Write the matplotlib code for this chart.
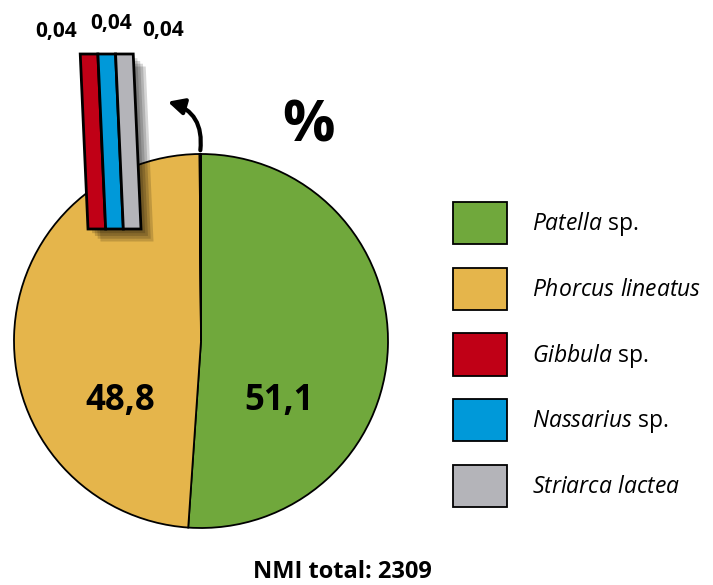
import numpy as np
import matplotlib
matplotlib.use("Agg")
import matplotlib.pyplot as plt
import matplotlib.patheffects as pe
from matplotlib.patches import FancyArrowPatch
from matplotlib.transforms import Affine2D

plt.rcParams['font.family'] = ['Open Sans', 'DejaVu Sans']
plt.rcParams['mathtext.fontset'] = 'custom'
plt.rcParams['mathtext.rm'] = 'Open Sans'
plt.rcParams['mathtext.it'] = 'Open Sans:italic'
plt.rcParams['mathtext.bf'] = 'Open Sans:bold'

# data (percent)
species = ['Patella sp.', 'Phorcus lineatus', 'Gibbula sp.', 'Nassarius sp.', 'Striarca lactea']
legend_labels = [r'$\it{Patella}$ sp.', r'$\it{Phorcus\ lineatus}$', r'$\it{Gibbula}$ sp.',
                 r'$\it{Nassarius}$ sp.', r'$\it{Striarca\ lactea}$']
percent = [51.1, 48.8, 0.04, 0.04, 0.04]
colors = ['#70A83C', '#E5B54B', '#C00016', '#0099D9', '#B4B4B9']
nmi_total = 2309

W, H = 713, 585
fig = plt.figure(figsize=(W / 100, H / 100), dpi=100)

def px_box(x0, y0, x1, y1):
    # pixel box (top-left origin) -> figure fraction rect
    return [x0 / W, 1 - y1 / H, (x1 - x0) / W, (y1 - y0) / H]

# ---- pie ----
cx, cy, r = 201, 341, 187
ax = fig.add_axes(px_box(cx - r, cy - r, cx + r, cy + r))
wedges, _ = ax.pie(percent, colors=colors, startangle=90, counterclock=False,
                   wedgeprops=dict(edgecolor='black', linewidth=1.3, clip_on=False))
ax.set_xlim(-1, 1)
ax.set_ylim(-1, 1)
ax.set_aspect('equal')
ax.axis('off')

def fmt(v):
    return f'{v:.1f}'.replace('.', ',') if v >= 1 else f'{v:.2f}'.replace('.', ',')

ax.text(-0.43, -0.32, fmt(percent[1]), ha='center', va='center',
        fontsize=25, fontweight='bold')
ax.text(0.42, -0.32, fmt(percent[0]), ha='center', va='center',
        fontsize=25, fontweight='bold')

# ---- inset bar for the tiny slices ----
axi = fig.add_axes(px_box(88, 54, 141, 229))
axi.set_xlim(0, 3)
axi.set_ylim(0, 0.04)
axi.axis('off')
small = percent[2:]
bars = axi.bar(np.arange(3), small, width=1, align='edge', color=colors[2:],
               edgecolor='black', linewidth=2)
shear = Affine2D.from_values(1, 0, -11.0, 1, 0, 0)
shadow = [pe.SimplePatchShadow(offset=(o, -o), shadow_rgbFace='black', alpha=0.16)
          for o in (9, 7, 5, 3)]
for b in bars:
    b.set_transform(shear + axi.transData)
    b.set_clip_on(False)
    b.set_path_effects(shadow + [pe.Normal()])

offsets = [(-29, 16), (-2.5, 22), (22, 17)]
for i, (v, off) in enumerate(zip(small, offsets)):
    axi.annotate(fmt(v), xy=(i + 0.5, v), xytext=off, textcoords='offset points',
                 ha='center', va='center', fontsize=15, fontweight='bold',
                 annotation_clip=False)

# curved arrow
fig.add_artist(FancyArrowPatch(
    (200 / W, 1 - 153 / H), (165 / W, 1 - 101 / H), transform=fig.transFigure,
    connectionstyle='arc3,rad=0.45', arrowstyle='-|>', mutation_scale=24,
    linewidth=3, color='black'))

fig.text(308 / W, 1 - 126 / H, '%', ha='center', va='center', fontsize=42,
         fontweight='bold')

# ---- legend ----
fig.legend(wedges, legend_labels, loc='upper left',
           bbox_to_anchor=(453 / W, 1 - 202 / H), borderaxespad=0, borderpad=0,
           frameon=False, fontsize=16.5, handlelength=2.36, handleheight=2.45,
           labelspacing=1.03, handletextpad=1.1)

fig.text(342 / W, 1 - 572 / H, f'NMI total: {nmi_total}', ha='center', va='center',
         fontsize=17, fontweight='bold')

fig.savefig('out.png', dpi=100)
